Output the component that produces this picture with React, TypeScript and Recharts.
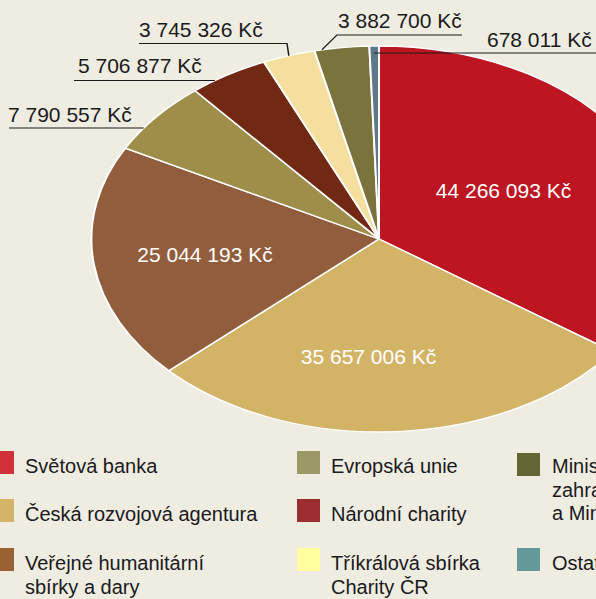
import { PieChart, Pie, Cell } from "recharts";

// sources of funding and amounts (Kč), clockwise from 12 o'clock
const sources = [
  "Světová banka",
  "Česká rozvojová agentura",
  "Veřejné humanitární sbírky a dary",
  "Evropská unie",
  "Národní charity",
  "Tříkrálová sbírka Charity ČR",
  "Ministerstvo zahraničních věcí a Ministerstvo vnitra",
  "Ostatní",
];
const amounts = [44266093, 35657006, 25044193, 7790557, 5706877, 3745326, 3882700, 678011];

const legendLabels = [
  "Světová banka",
  "Česká rozvojová agentura",
  "Veřejné humanitární\nsbírky a dary",
  "Evropská unie",
  "Národní charity",
  "Tříkrálová sbírka\nCharity ČR",
  "Ministerstvo\nzahraničních věcí\na Ministerstvo vnitra",
  "Ostatní",
];

const sliceColors = ["#be1522", "#d3b467", "#925d3c", "#9e8e4a", "#712913", "#f5df9f", "#7b733c", "#5d7989"];
const legendColors = ["#d13239", "#d4b467", "#9a6232", "#9b9a66", "#9b2c2f", "#ffff9f", "#636535", "#64999a"];

const BG = "#efece2";
const FONT = '"Liberation Sans", Arial, Helvetica, sans-serif';
const K = 1.49; // horizontal stretch of the pie (ellipse)
const CX = 379;
const CY = 239;
const R = 193;

// label layout, screen px
const innerPos: Record<number, { dx: number; dy: number }> = {
  0: { dx: 124.5, dy: -41 },
  1: { dx: -10.5, dy: 125 },
  2: { dx: -174, dy: 23 },
};
const outerPos: Record<number, { tx: number; ty: number; ly: number; x1: number; x2?: number; elbow?: number; toRight?: boolean; shift?: number }> = {
  3: { tx: 8, ty: 122, ly: 128, x1: 9 },
  4: { tx: 78, ty: 73, ly: 80.5, x1: 74 },
  5: { tx: 139, ty: 37, ly: 43.5, x1: 139, x2: 287, elbow: 287 },
  6: { tx: 338, ty: 28, ly: 35, x1: 337, x2: 462, elbow: 337, shift: 4 },
  7: { tx: 487, ty: 47, ly: 53, x1: 0, toRight: true },
};

const data = sources.map((name, i) => ({ name, value: amounts[i] }));

const fmt = (v: number) => v.toString().replace(/\B(?=(\d{3})+(?!\d))/g, " ") + " Kč";

const RAD = Math.PI / 180;

function renderLabel(props: any) {
  const { cx, cy, midAngle, outerRadius, index, value } = props;
  const sCx = cx * K;
  const sCy = cy;
  const rx = outerRadius * K;
  const ry = outerRadius;
  const txt = fmt(value);
  const lineProps = { stroke: "#1a1a1a", strokeWidth: 1, vectorEffect: "non-scaling-stroke" as const, fill: "none" };

  if (innerPos[index]) {
    const p = innerPos[index];
    return (
      <text
        key={`l${index}`}
        x={0}
        y={0}
        transform={`translate(${(sCx + p.dx) / K},${sCy + p.dy}) scale(${1 / K},1)`}
        textAnchor="middle"
        fill="#ffffff"
        fontSize={21}
        fontFamily={FONT}
      >
        {txt}
      </text>
    );
  }
  const o = outerPos[index];
  if (!o) return null;
  const ang = midAngle + (o.shift ?? 0);
  const ax = sCx + rx * Math.cos(-ang * RAD);
  const ay = sCy + ry * Math.sin(-ang * RAD);
  let pts: [number, number][];
  if (o.toRight) {
    pts = [[ax, o.ly], [620, o.ly]];
  } else if (o.elbow !== undefined && o.x2 !== undefined) {
    if (o.elbow === o.x2) {
      pts = [[o.x1, o.ly], [o.x2, o.ly], [ax, ay]];
    } else {
      pts = [[o.x2, o.ly], [o.x1, o.ly], [ax, ay]];
    }
  } else {
    // underline runs until it meets the edge of the ellipse
    const dy = (o.ly - sCy) / ry;
    const edgeX = sCx - rx * Math.sqrt(Math.max(0, 1 - dy * dy));
    pts = [[o.x1, o.ly], [edgeX, o.ly]];
  }
  const path = pts.map((p, i) => `${i ? "L" : "M"}${p[0] / K},${p[1]}`).join(" ");
  return (
    <g key={`l${index}`}>
      <path d={path} {...lineProps} />
      <text
        x={0}
        y={0}
        transform={`translate(${o.tx / K},${o.ty}) scale(${1 / K},1)`}
        textAnchor="start"
        fill="#1a1a1a"
        fontSize={21}
        fontFamily={FONT}
      >
        {txt}
      </text>
    </g>
  );
}

const legendCols = [
  { sq: -9, tx: 25, items: [0, 1, 2], rows: [0, 1, 2] },
  { sq: 297, tx: 331, items: [3, 4, 5], rows: [0, 1, 2] },
  { sq: 517, tx: 552, items: [6, 7], rows: [0, 2] },
];
const rowTops = [451, 499, 548];

export default function App() {
  const W0 = 420;
  return (
    <div
      style={{
        position: "fixed",
        left: 0,
        top: 0,
        width: 596,
        height: 599,
        overflow: "hidden",
        background: BG,
        fontFamily: FONT,
      }}
    >
      <div
        style={{
          position: "absolute",
          left: 0,
          top: 0,
          width: W0,
          height: 440,
          transform: `scaleX(${K})`,
          transformOrigin: "0 0",
        }}
      >
        <PieChart width={W0} height={440} margin={{ top: 0, right: 0, bottom: 0, left: 0 }}>
          <Pie
            data={data}
            dataKey="value"
            nameKey="name"
            cx={CX / K}
            cy={CY}
            outerRadius={R}
            startAngle={90}
            endAngle={-270}
            stroke="#ffffff"
            strokeWidth={1.3}
            label={renderLabel}
            labelLine={false}
            isAnimationActive={false}
          >
            {data.map((d, i) => (
              <Cell key={d.name} fill={sliceColors[i]} stroke="#ffffff" />
            ))}
          </Pie>
        </PieChart>
      </div>
      {legendCols.map((col, c) =>
        col.items.map((idx, j) => {
          const r = col.rows[j];
          const top = rowTops[r] + (c === 2 && r === 0 ? 2 : 0);
          return (
            <div key={`lg${idx}`}>
              <div
                style={{
                  position: "absolute",
                  left: col.sq,
                  top,
                  width: 23,
                  height: 23,
                  background: legendColors[idx],
                }}
              />
              <div
                style={{
                  position: "absolute",
                  left: col.tx,
                  top: rowTops[r] + 4,
                  fontSize: 20,
                  lineHeight: "23.5px",
                  color: "#1a1a1a",
                  whiteSpace: "pre",
                }}
              >
                {legendLabels[idx]}
              </div>
            </div>
          );
        })
      )}
    </div>
  );
}
